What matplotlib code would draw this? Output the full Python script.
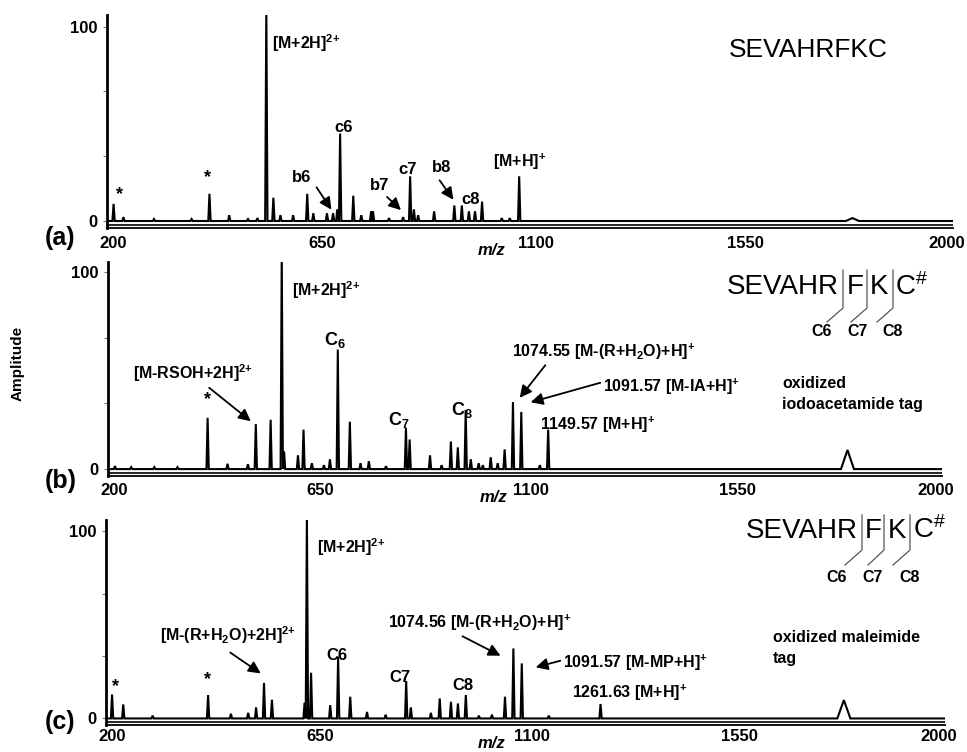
import numpy as np
import matplotlib
matplotlib.use("Agg")
import matplotlib.pyplot as plt
import matplotlib.transforms as mtransforms
from matplotlib.lines import Line2D

plt.rcParams['font.family'] = ['Liberation Sans', 'DejaVu Sans']
plt.rcParams['mathtext.fontset'] = 'custom'
plt.rcParams['mathtext.rm'] = 'Liberation Sans'
plt.rcParams['mathtext.bf'] = 'Liberation Sans:bold'
plt.rcParams['mathtext.it'] = 'Liberation Sans:italic'

# --- data (m/z, relative amplitude) ---
mz_a = [214, 235, 300, 380, 418, 460, 500, 520, 539, 554, 569, 596, 626, 639, 668, 681,
        690, 696, 724, 741, 762, 766, 800, 830, 845, 853, 862, 896, 939, 955, 970, 983,
        998, 1040, 1057, 1077]
amp_a = [8.8, 2, 1, 1, 14, 3, 1, 1.5, 110, 12, 3, 3, 14, 4, 4, 4,
         6, 45, 13, 3, 5, 5, 1.5, 2, 23, 6, 3, 5, 8, 8, 5, 5,
         10, 1.5, 1.5, 23]
broad_a = ([1786], [1.5])

mz_b = [215, 250, 300, 350, 415, 458, 502, 519, 551, 575, 580, 610, 622, 640, 666, 679,
        696, 722, 745, 763, 800, 843, 851, 895, 920, 940, 955, 972, 983, 1000, 1009, 1026,
        1041, 1056, 1074, 1092, 1132, 1150]
amp_b = [1.5, 1, 1, 1, 26, 2.7, 2.5, 22.8, 25, 110, 9, 7, 20, 3, 2, 5,
         60.6, 24, 3, 4, 1.5, 21, 15, 7, 2, 14, 11, 30, 5, 3, 2, 6,
         3, 10, 34, 29, 2, 20]
broad_b = ([1796], [9.7])

mz_c = [213, 237, 300, 419, 468, 505, 522, 539, 556, 626, 631, 640, 681, 698, 724, 760,
        800, 844, 854, 897, 916, 940, 955, 972, 1000, 1028, 1056, 1074, 1092, 1150, 1261]
amp_c = [12.8, 7.5, 1.5, 12.5, 2.5, 3, 5.9, 19, 10, 8.4, 110, 24.4, 7.1, 33, 11.6, 3.5,
         2, 20, 5.9, 3, 10.7, 8.9, 8, 12.5, 1.5, 2, 11.6, 37.4, 29.4, 1.5, 7.7]
broad_c = ([1783], [9.8])

xticks = [200, 650, 1100, 1550, 2000]

W, H = 967, 752
fig = plt.figure(figsize=(W / 100, H / 100), dpi=100)

SUP2 = r'$^{\mathbf{2{+}}}$'
SUP1 = r'$^{\mathbf{{+}}}$'
H2O = r'H$_{\mathbf{2}}$O'


def P(x, y):
    return x / W, 1 - y / H


def make_axes(left, right, top, bottom):
    return fig.add_axes([left / W, 1 - bottom / H, (right - left) / W, (bottom - top) / H])


def profile(mz, amp, broad):
    xs, ys = [200], [0]
    peaks = sorted([(m, a, 2.5) for m, a in zip(mz, amp)] +
                   [(m, a, 14) for m, a in zip(*broad)])
    for m, a, w in peaks:
        xs += [m - w, m, m + w]
        ys += [0, a, 0]
    xs.append(2000)
    ys.append(0)
    return xs, ys


def draw_panel(ax, mz, amp, broad, ytop, ybot, letter, letter_xy, xpad):
    xs, ys = profile(mz, amp, broad)
    ax.plot(xs, ys, color='black', lw=1.5, solid_joinstyle='miter')
    ax.set_xlim(200, 2000)
    ax.set_ylim(ybot, ytop)
    ax.axhline(ybot * 0.55, color='black', lw=1.2)
    for s in ['top', 'right']:
        ax.spines[s].set_visible(False)
    ax.spines['left'].set_linewidth(2)
    ax.spines['bottom'].set_linewidth(1.3)
    ax.set_xticks(xticks)
    ax.set_xticklabels([str(t) for t in xticks], fontsize=12, fontweight='bold')
    ax.tick_params(axis='x', length=0, pad=xpad)
    shifts = [6, 4, 6, 4, -6]
    for lab, dx in zip(ax.get_xticklabels(), shifts):
        lab.set_transform(lab.get_transform() +
                          mtransforms.ScaledTranslation(dx / 100, 0, fig.dpi_scale_trans))
    ax.set_yticks([0, 100 / 3, 200 / 3, 100])
    ax.set_yticklabels(['0', '', '', '100'], fontsize=12, fontweight='bold')
    ax.tick_params(axis='y', length=3, width=0.8, color='#777777', pad=4)
    fig.text(*P(*letter_xy), letter, fontsize=18, fontweight='bold', ha='left', va='center')


def label(x, y, s, ha='left', size=11.5, weight='bold'):
    fig.text(*P(x, y), s, fontsize=size, fontweight=weight, ha=ha, va='center')


def arrow(x0, y0, x1, y1):
    fig.add_artist(matplotlib.patches.FancyArrowPatch(
        P(x0, y0), P(x1, y1), transform=fig.transFigure,
        arrowstyle='-|>,head_length=0.6,head_width=0.3', mutation_scale=12,
        color='black', lw=1.3))


def seq_marks(pieces, cuts, cut_labels, y_top, y_bot, y_diag, y_lab):
    for x, s in pieces:
        fig.text(*P(x, (y_top + y_bot) / 2 - 2), s, fontsize=20, ha='left', va='center')
    for (xv, xd), (xl, lab) in zip(cuts, cut_labels):
        fig.add_artist(Line2D([P(xv, 0)[0], P(xv, 0)[0], P(xd, 0)[0]],
                              [P(0, y_top)[1], P(0, y_bot)[1], P(0, y_diag)[1]],
                              transform=fig.transFigure, color='#555555', lw=0.9))
        label(xl, y_lab, lab, ha='center', size=11.5)


def mz_label(x, y):
    fig.text(*P(x, y), 'm/z', fontsize=12, fontweight='bold', style='italic',
             ha='center', va='center')


# (a)
ax_a = make_axes(107, 953, 15, 228)
draw_panel(ax_a, mz_a, amp_a, broad_a, 106, -3.6, '(a)', (45, 238), 6)
label(119, 195, '*', ha='center', size=13)
label(207, 178, '*', ha='center', size=13)
label(272, 43, '[M+2H]' + SUP2)
label(344, 128, 'c6', ha='center', size=12)
label(302, 177, 'b6', ha='center', size=12)
arrow(315, 185, 333, 212)
label(380, 186, 'b7', ha='center', size=12)
arrow(385, 195, 403, 212)
label(408, 169, 'c7', ha='center', size=12)
label(442, 168, 'b8', ha='center', size=12)
arrow(438, 178, 455, 202)
label(471, 199, 'c8', ha='center', size=12)
label(493, 162, '[M+H]' + SUP1)
label(729, 50, 'SEVAHRFKC', size=19, weight='normal')
mz_label(492, 251)

# (b)
ax_b = make_axes(108, 942, 262, 476)
draw_panel(ax_b, mz_b, amp_b, broad_b, 105, -3.5, '(b)', (45, 481), 5)
label(207, 400, '*', ha='center', size=13)
label(133, 373, '[M-RSOH+2H]' + SUP2)
arrow(207, 386, 253, 423)
label(292, 290, '[M+2H]' + SUP2)
label(335, 340, r'C$_{\mathbf{6}}$', ha='center', size=13)
label(399, 420, r'C$_{\mathbf{7}}$', ha='center', size=13)
label(462, 410, r'C$_{\mathbf{8}}$', ha='center', size=13)
label(512, 352, '1074.55 [M-(R+' + H2O + ')+H]' + SUP1)
arrow(547, 363, 518, 400)
label(603, 387, '1091.57 [M-IA+H]' + SUP1)
arrow(603, 382, 528, 403)
label(540, 425, '1149.57 [M+H]' + SUP1)
label(782, 383, 'oxidized')
label(782, 405, 'iodoacetamide tag')
seq_marks([(727, 'SEVAHR'), (847, 'F'), (870, 'K'), (895, r'C$^{\#}$')],
          [(843, 827), (867, 851), (893, 877)],
          [(822, 'C6'), (858, 'C7'), (893, 'C8')],
          270, 308, 322, 332)
mz_label(494, 497)
fig.text(*P(18, 363), 'Amplitude', fontsize=11, fontweight='bold', rotation=90,
         ha='center', va='center')

# (c)
ax_c = make_axes(106, 945, 520, 725)
draw_panel(ax_c, mz_c, amp_c, broad_c, 106, -3.5, '(c)', (45, 722), 3)
label(115, 687, '*', ha='center', size=13)
label(208, 680, '*', ha='center', size=13)
label(160, 635, '[M-(R+' + H2O + ')+2H]' + SUP2)
arrow(228, 651, 263, 675)
label(317, 547, '[M+2H]' + SUP2)
label(337, 655, 'C6', ha='center', size=12)
label(400, 677, 'C7', ha='center', size=12)
label(463, 685, 'C8', ha='center', size=12)
label(388, 623, '1074.56 [M-(R+' + H2O + ')+H]' + SUP1)
arrow(460, 635, 503, 657)
label(563, 663, '1091.57 [M-MP+H]' + SUP1)
arrow(563, 660, 533, 668)
label(572, 693, '1261.63 [M+H]' + SUP1)
label(773, 637, 'oxidized maleimide')
label(773, 659, 'tag')
seq_marks([(746, 'SEVAHR'), (865, 'F'), (888, 'K'), (913, r'C$^{\#}$')],
          [(862, 845), (884, 868), (910, 893)],
          [(837, 'C6'), (873, 'C7'), (910, 'C8')],
          515, 550, 565, 577)
mz_label(492, 743)

fig.savefig('out.png', dpi=100)
